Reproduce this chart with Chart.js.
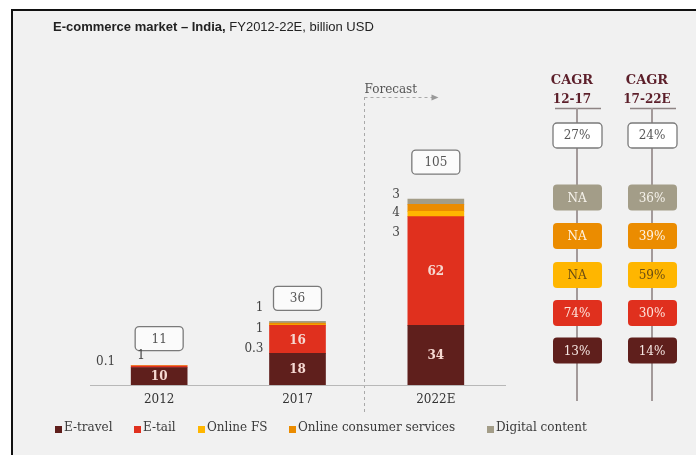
<!DOCTYPE html>
<html>
<head>
<meta charset="utf-8">
<title>E-commerce market – India</title>
<script src="https://cdn.jsdelivr.net/npm/chart.js@4"></script>
<style>
  html, body { margin: 0; padding: 0; background: #fff; }
  #wrap { width: 696px; height: 455px; }
</style>
</head>
<body>
<div id="wrap"><canvas id="myChart" width="696" height="455"></canvas></div>
<script>
// market size by segment, billion USD
const years = ['2012', '2017', '2022E'];
const eTravel = [10, 18, 34];
const eTail = [1, 16, 62];
const onlineFS = [0.1, 0.3, 3];
const consumerServices = [null, 1, 4];
const digitalContent = [null, 1, 3];
const totals = [11, 36, 105];

const seriesNames = ['E-travel', 'E-tail', 'Online FS', 'Online consumer services', 'Digital content'];

// growth rates per segment (same order as the series), plus the total
const cagrHeads = ['12-17', '17-22E'];
const cagr1217 = ['13%', '74%', 'NA', 'NA', 'NA'];
const cagr1722 = ['14%', '30%', '59%', '39%', '36%'];
const cagrTotal = ['27%', '24%'];

const colors = ['#5f1f1c', '#e0301e', '#ffb600', '#eb8c00', '#a39d88'];
const boxText = ['#f5e6e2', '#fde4dc', '#6a4c12', '#fff4e4', '#f6f3ec'];
const serif = "'DejaVu Serif', serif";

// small segment values written beside the bars (dx from bar left, dy from stack top)
const sideLabels = [
    { bar: 0, series: 2, dx: -16, dy: -4, align: 'right' },
    { bar: 0, series: 1, dx: 10, dy: -10, align: 'center' },
    { bar: 1, series: 4, dx: -6, dy: -13, align: 'right' },
    { bar: 1, series: 3, dx: -6, dy: 8, align: 'right' },
    { bar: 1, series: 2, dx: -6, dy: 28, align: 'right' },
    { bar: 2, series: 4, dx: -8, dy: -4, align: 'right' },
    { bar: 2, series: 3, dx: -8, dy: 14, align: 'right' },
    { bar: 2, series: 2, dx: -8, dy: 34, align: 'right' },
];
const totalGaps = [27, 23, 37];

const allSeries = [eTravel, eTail, onlineFS, consumerServices, digitalContent];

function roundBox(ctx, x, y, w, h, r) {
    ctx.beginPath();
    ctx.moveTo(x + r, y);
    ctx.arcTo(x + w, y, x + w, y + h, r);
    ctx.arcTo(x + w, y + h, x, y + h, r);
    ctx.arcTo(x, y + h, x, y, r);
    ctx.arcTo(x, y, x + w, y, r);
    ctx.closePath();
}

function fmt(v) {
    return String(v);
}

const backdrop = {
    id: 'backdrop',
    beforeDraw(chart) {
        const ctx = chart.ctx;
        ctx.save();
        ctx.fillStyle = '#ffffff';
        ctx.fillRect(0, 0, chart.width, chart.height);
        ctx.fillStyle = '#f1f1f1';
        ctx.fillRect(13, 11, chart.width - 13, chart.height - 11);
        ctx.strokeStyle = '#111';
        ctx.lineWidth = 2;
        ctx.beginPath();
        ctx.moveTo(12, 9);
        ctx.lineTo(12, chart.height);
        ctx.moveTo(11, 10);
        ctx.lineTo(chart.width, 10);
        ctx.stroke();

        // title
        ctx.textBaseline = 'middle';
        ctx.fillStyle = '#222';
        ctx.font = "bold 13px 'Liberation Sans', Arial, sans-serif";
        const bold = 'E-commerce market \u2013 India,';
        ctx.fillText(bold, 53, 27);
        const w = ctx.measureText(bold).width;
        ctx.font = "13px 'Liberation Sans', Arial, sans-serif";
        ctx.fillText(' FY2012-22E, billion USD', 53 + w, 27);

        // forecast divider
        const xs = chart.scales.x;
        const fx = Math.round((xs.getPixelForValue(1) + xs.getPixelForValue(2)) / 2) - 3 + 0.5;
        ctx.strokeStyle = '#a9a9a9';
        ctx.lineWidth = 1;
        ctx.setLineDash([3, 3]);
        ctx.beginPath();
        ctx.moveTo(fx, 97);
        ctx.lineTo(fx, 414);
        ctx.moveTo(fx, 97.5);
        ctx.lineTo(fx + 68, 97.5);
        ctx.stroke();
        ctx.setLineDash([]);
        ctx.fillStyle = '#999';
        ctx.beginPath();
        ctx.moveTo(fx + 74, 97.5);
        ctx.lineTo(fx + 67, 94.5);
        ctx.lineTo(fx + 67, 100.5);
        ctx.closePath();
        ctx.fill();
        ctx.fillStyle = '#555';
        ctx.font = '12px ' + serif;
        ctx.textAlign = 'left';
        ctx.fillText('Forecast', fx, 90);
        ctx.restore();
    },
    afterDatasetsDraw(chart) {
        const ctx = chart.ctx;
        const xs = chart.scales.x;
        const ys = chart.scales.y;
        const barW = chart.getDatasetMeta(0).data[0].width;
        ctx.save();
        ctx.textBaseline = 'middle';

        // values inside the tall segments
        ctx.font = 'bold 12px ' + serif;
        ctx.fillStyle = '#f6d9d2';
        ctx.textAlign = 'center';
        allSeries.forEach((s, i) => {
            chart.getDatasetMeta(i).data.forEach((bar, j) => {
                if (s[j] == null) return;
                if (Math.abs(bar.base - bar.y) < 14) return;
                ctx.fillText(fmt(s[j]), bar.x, (bar.y + bar.base) / 2 + 1);
            });
        });

        // stack tops, totals and side labels
        years.forEach((yr, j) => {
            let sum = 0;
            allSeries.forEach(s => { sum += s[j] || 0; });
            const top = ys.getPixelForValue(sum);
            const cx = xs.getPixelForValue(j);
            const by = top - totalGaps[j];
            roundBox(ctx, cx - 24, by - 12, 48, 24, 4);
            ctx.fillStyle = '#fbfbfb';
            ctx.fill();
            ctx.strokeStyle = '#7a7a7a';
            ctx.lineWidth = 1.3;
            ctx.stroke();
            ctx.fillStyle = '#555';
            ctx.font = '12px ' + serif;
            ctx.textAlign = 'center';
            ctx.fillText(String(totals[j]), cx, by + 1);

            sideLabels.filter(l => l.bar === j).forEach(l => {
                ctx.textAlign = l.align;
                ctx.fillStyle = '#444';
                ctx.fillText(fmt(allSeries[l.series][j]), cx - barW / 2 + l.dx, top + l.dy);
            });
        });

        // legend
        const legendX = [55, 134, 198, 289, 487];
        ctx.textAlign = 'left';
        ctx.font = '12px ' + serif;
        seriesNames.forEach((name, i) => {
            ctx.fillStyle = colors[i];
            ctx.fillRect(legendX[i], 426, 7, 7);
            ctx.fillStyle = '#3a3a3a';
            ctx.fillText(name, legendX[i] + 9, 428);
        });

        // CAGR panel
        const colX = [577, 652];
        const rowY = [350.5, 313, 275, 236, 197.5];
        [cagr1217, cagr1722].forEach((col, c) => {
            const x = colX[c];
            ctx.fillStyle = '#5c1f2a';
            ctx.textAlign = 'center';
            ctx.font = 'bold 13px ' + serif;
            ctx.fillText('CAGR', x - 5, 81);
            ctx.font = 'bold 12px ' + serif;
            ctx.fillText(cagrHeads[c], x - 5, 100);

            ctx.strokeStyle = '#8e8484';
            ctx.lineWidth = 1.5;
            ctx.beginPath();
            ctx.moveTo(x - 22, 108.5);
            ctx.lineTo(x + 24, 108.5);
            ctx.stroke();
            ctx.strokeStyle = '#a39a9a';
            ctx.lineWidth = 2;
            ctx.beginPath();
            ctx.moveTo(x, 108);
            ctx.lineTo(x, 401);
            ctx.stroke();

            roundBox(ctx, x - 24, 123, 49, 25, 4);
            ctx.fillStyle = '#ffffff';
            ctx.fill();
            ctx.strokeStyle = '#7a7a7a';
            ctx.lineWidth = 1.3;
            ctx.stroke();
            ctx.fillStyle = '#555';
            ctx.font = '12px ' + serif;
            ctx.fillText(cagrTotal[c], x, 136);

            col.forEach((v, i) => {
                roundBox(ctx, x - 24, rowY[i] - 13, 49, 26, 4);
                ctx.fillStyle = colors[i];
                ctx.fill();
                ctx.fillStyle = boxText[i];
                ctx.fillText(v, x, rowY[i] + 1);
            });
        });
        ctx.restore();
    }
};

const data = {
    labels: years,
    datasets: allSeries.map((s, i) => ({
        label: seriesNames[i],
        data: s,
        backgroundColor: colors[i],
        borderWidth: 0,
        barThickness: 56,
    }))
};

const config = {
    type: 'bar',
    data: data,
    options: {
        responsive: false,
        animation: false,
        devicePixelRatio: 1,
        layout: { padding: { left: 90, right: 191, top: 122, bottom: 39.6 } },
        plugins: {
            legend: { display: false },
            tooltip: { enabled: false }
        },
        scales: {
            x: {
                stacked: true,
                grid: { display: false, drawTicks: false },
                border: { color: '#b8b8b8', width: 1 },
                ticks: { padding: 8, color: '#333', font: { family: serif, size: 12 } }
            },
            y: { stacked: true, display: false, min: 0, max: 150 }
        }
    },
    plugins: [backdrop]
};

const myChart = new Chart(document.getElementById('myChart'), config);
</script>
</body>
</html>
